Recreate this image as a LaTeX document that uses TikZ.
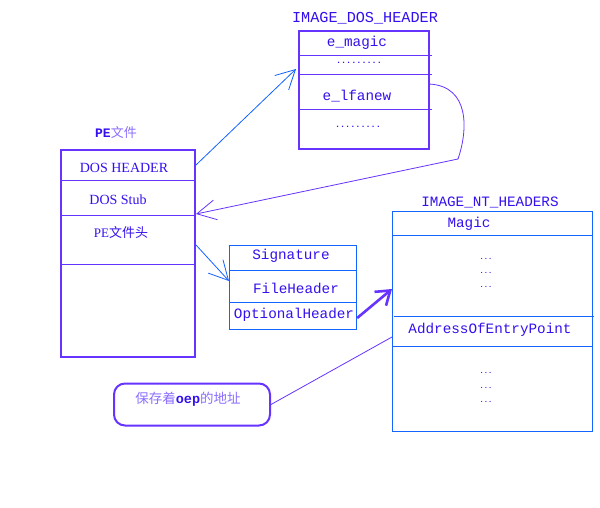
\documentclass[tikz,border=0pt]{standalone}
\usepackage{fontspec}
\setmainfont{Liberation Serif}
\setmonofont{Liberation Mono}
\newfontfamily\cjk{Noto Sans CJK SC}
\usetikzlibrary{arrows.meta}
\definecolor{bp}{RGB}{102,51,255}
\definecolor{tb}{RGB}{51,17,238}
\definecolor{lb}{RGB}{20,100,255}
\definecolor{lp}{RGB}{140,110,255}
\tikzset{
  thickbox/.style={draw=bp, line width=2pt, inner sep=0pt, anchor=north west},
  bluebox/.style={draw=lb, line width=1.2pt, inner sep=0pt, anchor=north west},
  divp/.style={draw=bp, line width=1pt},
  divb/.style={draw=lb, line width=1pt},
  mono/.style={text=tb, font=\fontsize{14.3}{16}\selectfont\ttfamily, inner sep=0pt},
  serif/.style={text=tb, font=\fontsize{14}{16}\selectfont\rmfamily, inner sep=0pt},
  dotsA/.style={text=tb, font=\fontsize{8.5}{10}\selectfont\ttfamily\bfseries, inner sep=0pt},
  dotsB/.style={text=tb, font=\fontsize{7}{8}\selectfont\ttfamily\bfseries, inner sep=0pt},
  barb/.style={-{Straight Barb[length=19pt,width=20pt]}},
  bluearrow/.style={barb, draw=lb, line width=0.8pt},
  purplearrow/.style={barb, draw=bp, line width=0.8pt},
}
\begin{document}
\begin{tikzpicture}[x=1pt,y=-1pt]
\useasboundingbox (0,0) rectangle (600,508);
\fill[white] (0,0) rectangle (600,508);

% IMAGE_DOS_HEADER
\node[mono, font=\fontsize{15.2}{17}\selectfont\ttfamily] (dhtitle) at (365,18) {IMAGE\_DOS\_HEADER};
\node[thickbox, minimum width=130pt, minimum height=118pt] (dh) at (298,30) {};
\draw[divp] (298,56) -- (432,56);
\draw[divp] (298,75) -- (432,75);
\draw[divp] (298,110) -- (432,110);
\node[mono] (emagic) at (357,43) {e\_magic};
\node[dotsA] (dd1) at (359,63) {.........};
\node[mono] (elf) at (357,96) {e\_lfanew};
\node[dotsA] (dd2) at (358,127) {.........};

% PE file
\node[font=\fontsize{13}{15}\selectfont, inner sep=0pt] (petitle) at (116,133) {\textcolor{tb}{\ttfamily\bfseries PE}\textcolor{lp}{\cjk 文件}};
\node[thickbox, minimum width=134pt, minimum height=207pt] (pe) at (60,149) {};
\draw[divp] (60,181) -- (194,181);
\draw[divp] (60,215) -- (194,215);
\draw[divp] (60,264) -- (194,264);
\node[serif] (doshdr) at (124,168) {DOS HEADER};
\node[serif] (dosstub) at (118,200) {DOS Stub};
\node[text=tb, font=\fontsize{13}{15}\selectfont, inner sep=0pt] (pehead) at (121,233) {PE{\cjk 文件头}};

% small header box
\node[bluebox, minimum width=127pt, minimum height=84pt] (fh) at (229,245) {};
\draw[divb] (229,270) -- (356,270);
\draw[divb] (229,302) -- (356,302);
\node[mono] (sig) at (291,256) {Signature};
\node[mono] (fileh) at (296,288) {FileHeader};
\node[mono] (opth) at (294,315) {OptionalHeader};

% IMAGE_NT_HEADERS
\node[mono] (nttitle) at (490,202) {IMAGE\_NT\_HEADERS};
\node[bluebox, minimum width=200pt, minimum height=220pt] (nt) at (392,211) {};
\draw[divb] (392,235) -- (592,235);
\draw[divb] (394,316) -- (594,316);
\draw[divb] (392,346) -- (592,346);
\node[mono] (magic) at (469,224) {Magic};
\node[dotsB] (n1) at (486,259) {...};
\node[dotsB] (n2) at (486,273) {...};
\node[dotsB] (n3) at (486,287) {...};
\node[mono] (aoep) at (490,330) {AddressOfEntryPoint};
\node[dotsB] (n4) at (486,373) {...};
\node[dotsB] (n5) at (486,388) {...};
\node[dotsB] (n6) at (486,402) {...};

% oval note
\node[draw=bp, line width=2pt, rounded corners=11pt, minimum width=156pt, minimum height=42pt, inner sep=0pt] (oep) at (192,404.5) {};
\node[font=\fontsize{13.5}{15}\selectfont, inner sep=0pt] (oeptext) at (188,399) {\textcolor{lp}{\cjk 保存着}\textcolor{tb}{\ttfamily\bfseries oep}\textcolor{lp}{\cjk 的地址}};

% connectors
\coordinate (a1s) at (pe.east |- 0,165);
\coordinate (a1e) at (296,69);
\draw[bluearrow] (a1s) -- (a1e);

\coordinate (a2s) at (429,84);
\coordinate (a2m) at (458,159);
\coordinate (a2e) at (pe.east |- 0,214);
\draw[purplearrow] (a2s) .. controls (470,86) and (468,130) .. (a2m) -- (a2e);

\coordinate (a3s) at (pe.east |- 0,245);
\coordinate (a3e) at (fh.west |- 0,281);
\draw[bluearrow] (a3s) -- (a3e);

\coordinate (a4s) at (fh.east |- 0,318);
\coordinate (a4e) at (nt.west |- 0,289);
\draw[draw=bp, line width=2.6pt, -{Straight Barb[length=13pt,width=18pt]}] (a4s) -- (a4e);

\coordinate (a5e) at (nt.west |- 0,337);
\draw[draw=bp, line width=0.8pt] (oep.east) -- (a5e);
\end{tikzpicture}
\end{document}
